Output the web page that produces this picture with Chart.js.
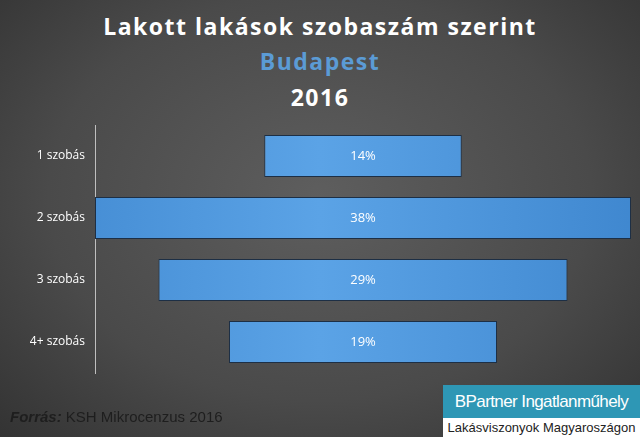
<!DOCTYPE html>
<html>
<head>
<meta charset="utf-8">
<script src="https://cdn.jsdelivr.net/npm/chart.js@4/dist/chart.umd.min.js"></script>
<style>
  html, body { margin: 0; padding: 0; }
  body {
    width: 640px; height: 437px; overflow: hidden; position: relative;
    background: radial-gradient(ellipse at 50% 45%, #5e5e5e 0%, #4a4a4a 60%, #333 100%);
    font-family: "Open Sans", sans-serif;
  }
  #chart { position: absolute; left: 0; top: 0; }
  .title { position: absolute; left: 0; width: 640px; text-align: center; font-weight: bold; font-size: 23px; letter-spacing: 1.5px; color: #fff; }
  #source { position: absolute; left: 10px; top: 408px; font-family: "Liberation Sans", Arial, sans-serif; font-size: 15px; color: #1e1e1e; }
  #logo1 { position: absolute; left: 443px; top: 385px; width: 197px; height: 33px; background: #2e97b5; color: #fff; font-family: "Liberation Sans", sans-serif; font-size: 17px; line-height: 33px; text-align: center; white-space: nowrap; letter-spacing: -0.6px; }
  #logo2 { position: absolute; left: 443px; top: 418px; width: 197px; height: 19px; background: #fff; color: #222; font-family: "Liberation Sans", Arial, sans-serif; font-size: 13px; line-height: 19px; text-align: center; white-space: nowrap; }
</style>
</head>
<body>
<div class="title" style="top:10px">Lakott lakások szobaszám szerint</div>
<div class="title" style="top:45px; color:#5b9bd5">Budapest</div>
<div class="title" style="top:81px">2016</div>
<canvas id="chart" width="640" height="437"></canvas>
<div id="source"><b><i>Forrás:</i></b> KSH Mikrocenzus 2016</div>
<div id="logo1">BPartner Ingatlanműhely</div>
<div id="logo2">Lakásviszonyok Magyaroszágon</div>
<script>
// categories and shares (%)
var categories = ['1 szobás', '2 szobás', '3 szobás', '4+ szobás'];
var shares = [14, 38, 29, 19];

// centred floating bars
var ranges = shares.map(function (v) { return [-v / 2, v / 2]; });

var valueLabels = {
    id: 'valueLabels',
    afterDatasetsDraw: function (chart) {
        var c = chart.ctx;
        var meta = chart.getDatasetMeta(0);
        c.save();
        c.fillStyle = '#fff';
        c.font = '13px "Open Sans", sans-serif';
        c.textAlign = 'center';
        c.textBaseline = 'middle';
        meta.data.forEach(function (bar, i) {
            c.fillText(shares[i] + '%', (bar.x + bar.base) / 2, bar.y);
        });
        c.restore();
    }
};

var ctx = document.getElementById('chart').getContext('2d');
var grad = ctx.createLinearGradient(0, 0, 640, 0);
grad.addColorStop(0, '#3f87cf');
grad.addColorStop(0.5, '#5ba3e6');
grad.addColorStop(1, '#3f87cf');

new Chart(ctx, {
    type: 'bar',
    data: {
        labels: categories,
        datasets: [{
            data: ranges,
            backgroundColor: grad,
            borderColor: '#1d2f45',
            borderWidth: 1,
            borderSkipped: false,
            barPercentage: 0.68,
            categoryPercentage: 1
        }]
    },
    options: {
        indexAxis: 'y',
        responsive: false,
        animation: false,
        layout: { padding: { top: 125, bottom: 64, left: 0, right: 9 } },
        plugins: { legend: { display: false }, tooltip: { enabled: false } },
        scales: {
            x: { display: false, min: -19, max: 19 },
            y: {
                grid: { display: false, drawTicks: false },
                border: { color: '#bfbfbf', width: 1 },
                afterFit: function (s) { s.width = 95; },
                ticks: { color: '#fff', padding: 10, font: { size: 12, family: '"Open Sans", sans-serif' } }
            }
        }
    },
    plugins: [valueLabels]
});
</script>
</body>
</html>
